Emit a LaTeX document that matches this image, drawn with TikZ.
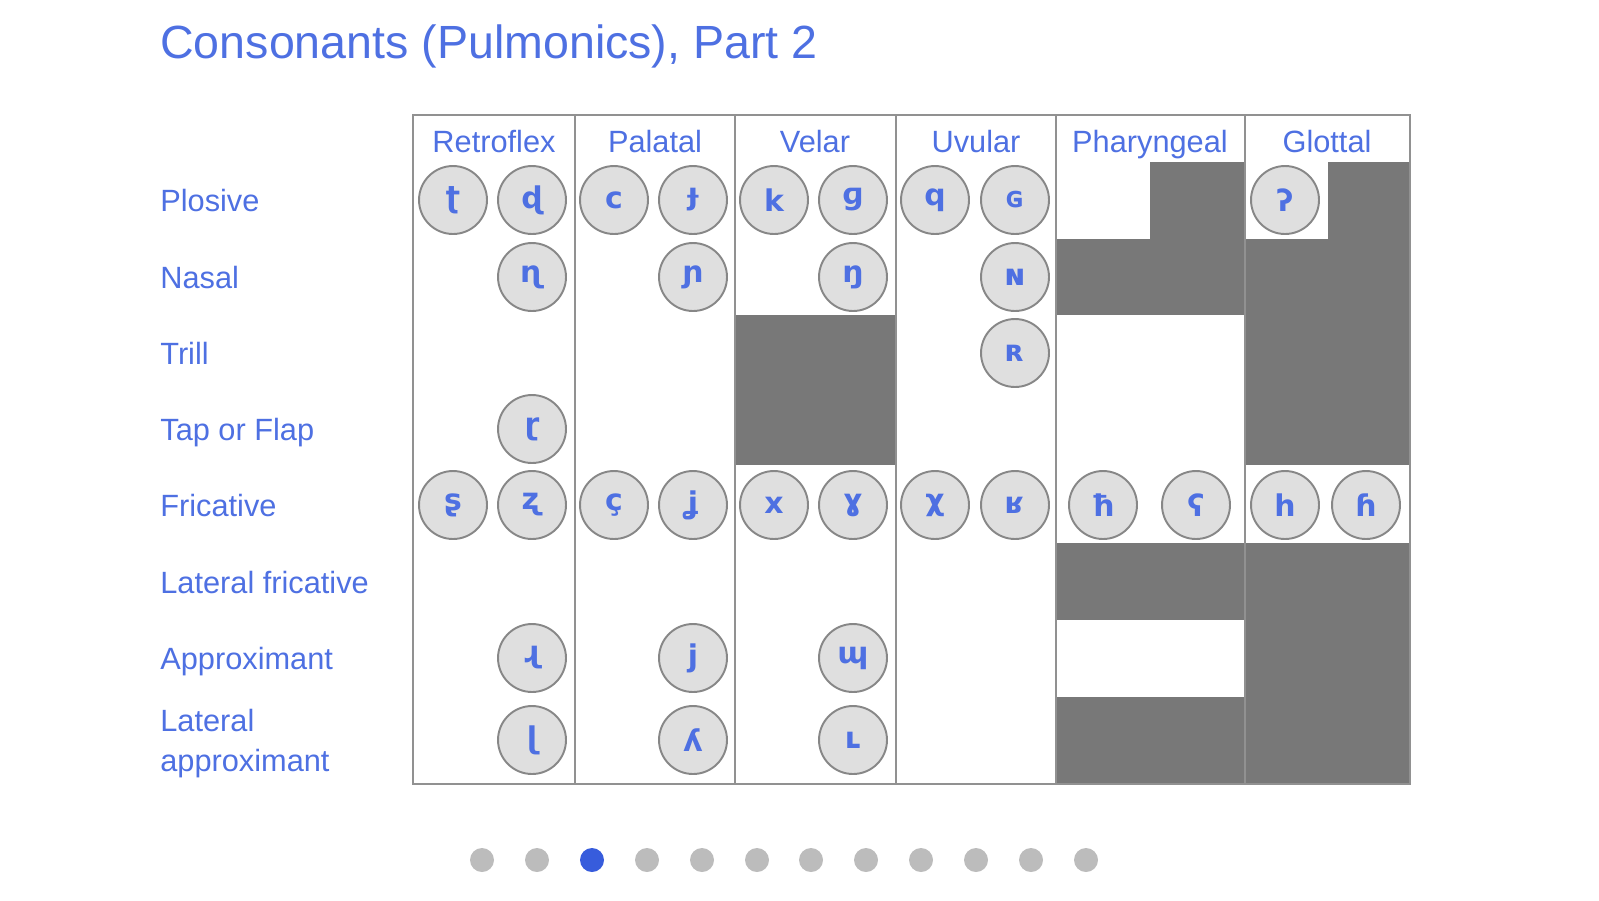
\documentclass[tikz,border=0pt]{standalone}
\usepackage{fontspec}
\setmainfont{Liberation Sans}
\newfontfamily\ipafont{DejaVu Sans}
\definecolor{labelblue}{RGB}{78,112,226}
\definecolor{dotblue}{RGB}{55,92,220}
\definecolor{dotgray}{RGB}{188,188,188}
\definecolor{circfill}{RGB}{223,223,223}
\definecolor{circline}{RGB}{135,135,135}
\definecolor{darkcell}{RGB}{120,120,120}
\definecolor{rulegray}{RGB}{145,145,145}
\tikzset{
	ipa/.style={circle, draw=circline, line width=1.1pt, fill=circfill, minimum size=1.36cm, inner sep=0pt,
		text=labelblue, font=\ipafont\bfseries\fontsize{17}{17}\selectfont},
	rowlabel/.style={anchor=base west, inner sep=0pt, text=labelblue, font=\fontsize{17.5}{21}\selectfont},
	collabel/.style={anchor=base, inner sep=0pt, text=labelblue, font=\fontsize{17.5}{21}\selectfont},
	darkfill/.style={fill=darkcell},
	gridline/.style={draw=rulegray, line width=1.1pt},
	pagedot/.style={circle, fill=dotgray, minimum size=0.48cm, inner sep=0pt},
}

\begin{document}
\begin{tikzpicture}[x=0.02cm, y=-0.02cm]
\useasboundingbox (0,0) rectangle (1599,900);

% title
\node[anchor=base west, inner sep=0pt, text=labelblue, font=\fontsize{26.5}{30}\selectfont] (title) at (160,58) {Consonants (Pulmonics), Part 2};

% row labels
\node[rowlabel] (plosive) at (160,211) {Plosive};
\node[rowlabel] (nasal) at (160,288) {Nasal};
\node[rowlabel] (trill) at (160,364) {Trill};
\node[rowlabel] (tap) at (160,440) {Tap or Flap};
\node[rowlabel] (fricative) at (160,516) {Fricative};
\node[rowlabel] (latfric) at (160,593) {Lateral fricative};
\node[rowlabel] (approx) at (160,669) {Approximant};
\node[rowlabel] (latapprox1) at (160,731) {Lateral};
\node[rowlabel] (latapprox2) at (160,771) {approximant};

% grey cells
\fill[darkfill] (735,315) rectangle (896,465);
\fill[darkfill] (1150,162) rectangle (1245,239);
\fill[darkfill] (1056,239) rectangle (1245,315);
\fill[darkfill] (1056,543) rectangle (1245,620);
\fill[darkfill] (1056,697) rectangle (1245,784);
\fill[darkfill] (1328,162) rectangle (1410,239);
\fill[darkfill] (1245,239) rectangle (1410,465);
\fill[darkfill] (1245,543) rectangle (1410,784);

% table frame
\draw[gridline] (413,115) rectangle (1410,784);
\draw[gridline] (575,115) -- (575,784);
\draw[gridline] (735,115) -- (735,784);
\draw[gridline] (896,115) -- (896,784);
\draw[gridline] (1056,115) -- (1056,784);
\draw[gridline] (1245,115) -- (1245,784);

% column heads
\node[collabel] (retroflex) at (494,152) {Retroflex};
\node[collabel] (palatal) at (655,152) {Palatal};
\node[collabel] (velar) at (815,152) {Velar};
\node[collabel] (uvular) at (976,152) {Uvular};
\node[collabel] (pharyngeal) at (1150,152) {Pharyngeal};
\node[collabel] (glottal) at (1327,152) {Glottal};

% retroflex
\node[ipa] (retroPl1) at (453,200) {ʈ};
\node[ipa] (retroPl2) at (532,200) {ɖ};
\node[ipa] (retroNa2) at (532,277) {ɳ};
\node[ipa] (retroTa2) at (532,429) {ɽ};
\node[ipa] (retroFr1) at (453,505) {ʂ};
\node[ipa] (retroFr2) at (532,505) {ʐ};
\node[ipa] (retroAp2) at (532,658) {ɻ};
\node[ipa] (retroLa2) at (532,740) {ɭ};

% palatal
\node[ipa] (palPl1) at (614,200) {c};
\node[ipa] (palPl2) at (693,200) {ɟ};
\node[ipa] (palNa2) at (693,277) {ɲ};
\node[ipa] (palFr1) at (614,505) {ç};
\node[ipa] (palFr2) at (693,505) {ʝ};
\node[ipa] (palAp2) at (693,658) {j};
\node[ipa] (palLa2) at (693,740) {ʎ};

% velar
\node[ipa] (velPl1) at (774,200) {k};
\node[ipa] (velPl2) at (853,200) {ɡ};
\node[ipa] (velNa2) at (853,277) {ŋ};
\node[ipa] (velFr1) at (774,505) {x};
\node[ipa] (velFr2) at (853,505) {ɣ};
\node[ipa] (velAp2) at (853,658) {ɰ};
\node[ipa] (velLa2) at (853,740) {ʟ};

% uvular
\node[ipa] (uvuPl1) at (935,200) {q};
\node[ipa] (uvuPl2) at (1015,200) {ɢ};
\node[ipa] (uvuNa2) at (1015,277) {ɴ};
\node[ipa] (uvuTr2) at (1015,353) {ʀ};
\node[ipa] (uvuFr1) at (935,505) {χ};
\node[ipa] (uvuFr2) at (1015,505) {ʁ};

% pharyngeal and glottal
\node[ipa] (phaFr1) at (1103,505) {ħ};
\node[ipa] (phaFr2) at (1196,505) {ʕ};
\node[ipa] (gloPl1) at (1285,200) {ʔ};
\node[ipa] (gloFr1) at (1285,505) {h};
\node[ipa] (gloFr2) at (1366,505) {ɦ};

% page dots
\node[pagedot] (dot1) at (482,860) {};
\node[pagedot] (dot2) at (537,860) {};
\node[pagedot, fill=dotblue] (dot3) at (592,860) {};
\node[pagedot] (dot4) at (647,860) {};
\node[pagedot] (dot5) at (702,860) {};
\node[pagedot] (dot6) at (757,860) {};
\node[pagedot] (dot7) at (811,860) {};
\node[pagedot] (dot8) at (866,860) {};
\node[pagedot] (dot9) at (921,860) {};
\node[pagedot] (dot10) at (976,860) {};
\node[pagedot] (dot11) at (1031,860) {};
\node[pagedot] (dot12) at (1086,860) {};
\end{tikzpicture}
\end{document}
